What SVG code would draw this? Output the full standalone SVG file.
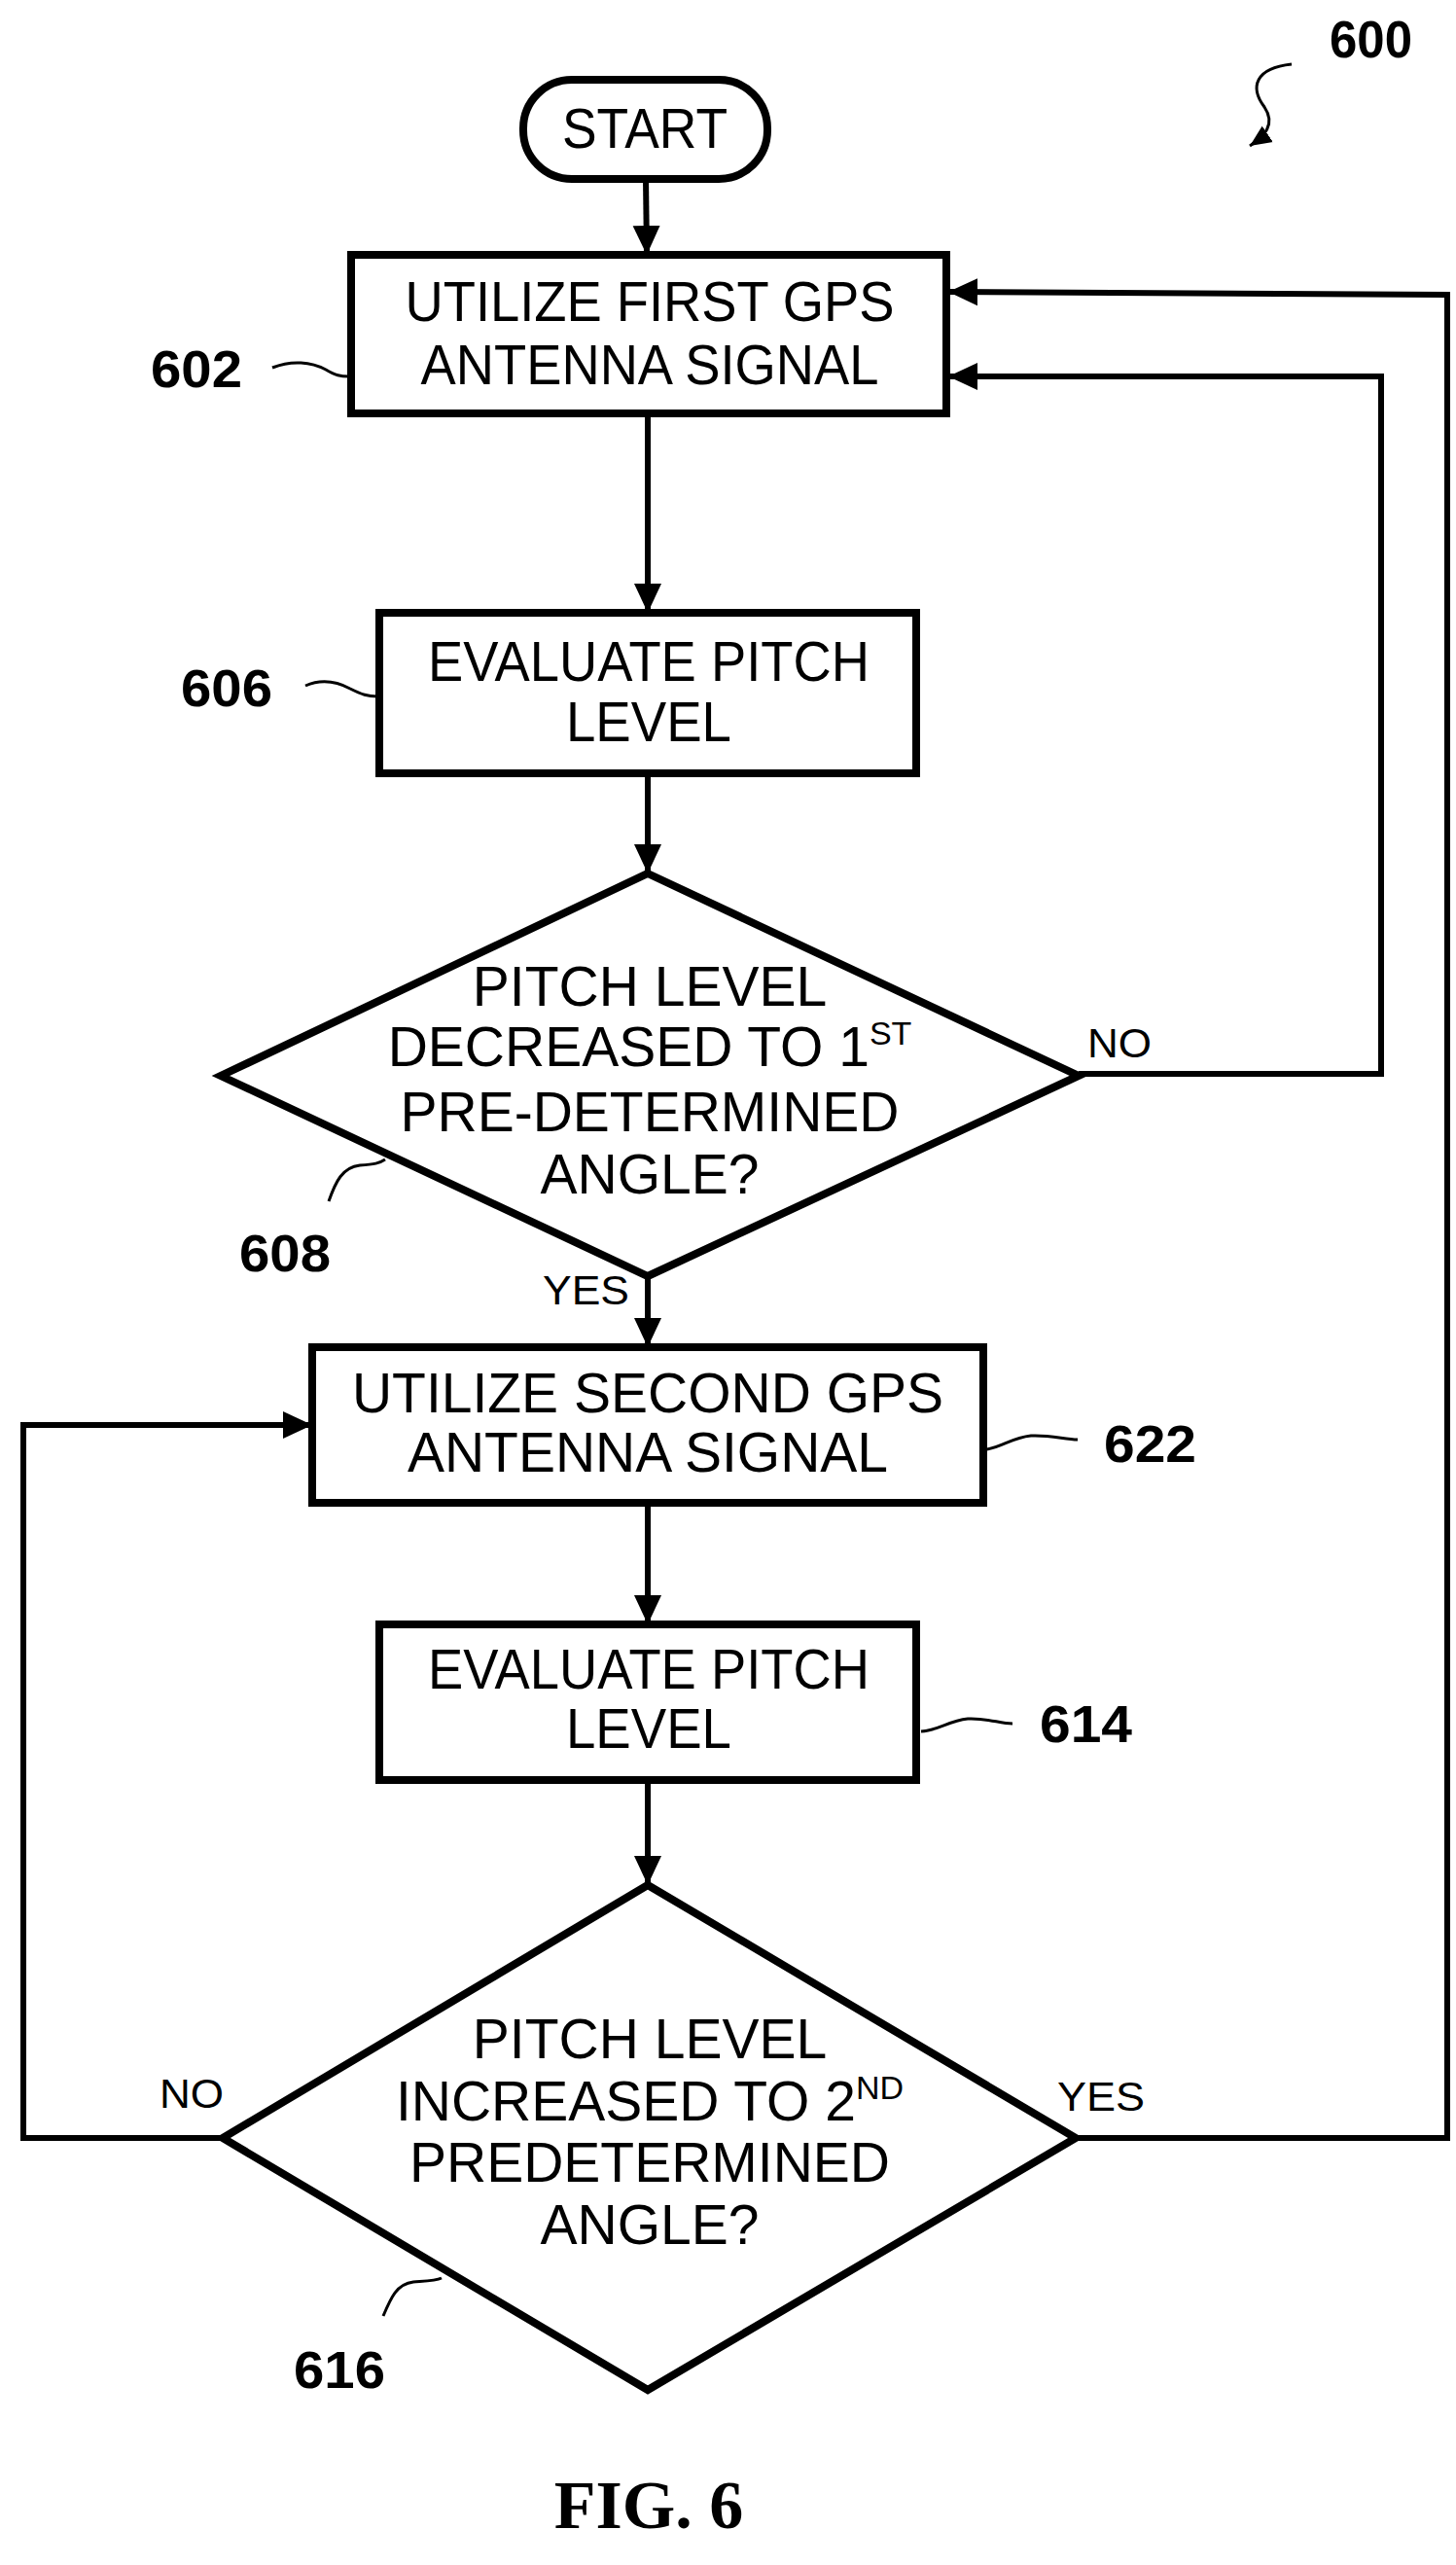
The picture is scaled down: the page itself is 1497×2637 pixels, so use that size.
<svg xmlns="http://www.w3.org/2000/svg" width="1497" height="2637" viewBox="0 0 1497 2637">
<style>
.b{fill:#fff;stroke:#000;stroke-width:8}
.t{font-family:"Liberation Sans",Arial,sans-serif;font-size:57px;text-anchor:middle;fill:#000}
.s{font-size:34px}
.l{font-family:"Liberation Sans",Arial,sans-serif;font-size:54px;font-weight:bold;fill:#000}
.y{font-family:"Liberation Sans",Arial,sans-serif;font-size:42px;fill:#000}
.c{fill:none;stroke:#000;stroke-width:6}
.q{fill:none;stroke:#000;stroke-width:3}
</style>
<defs>
<marker id="a" markerUnits="userSpaceOnUse" markerWidth="32" markerHeight="32" refX="30" refY="16" orient="auto">
<path d="M0,2 L30,16 L0,30 Z" fill="#000"/>
</marker>
<marker id="a2" markerUnits="userSpaceOnUse" markerWidth="24" markerHeight="24" refX="22" refY="12" orient="auto">
<path d="M0,2 L22,12 L0,22 Z" fill="#000"/>
</marker>
</defs>
<g id="connectors">
<path class="c" d="M664,184 L665,262" marker-end="url(#a)"/>
<path class="c" d="M666,425 L666,630" marker-end="url(#a)"/>
<path class="c" d="M666,795 L666,898" marker-end="url(#a)"/>
<path class="c" d="M666,1312 L666,1385" marker-end="url(#a)"/>
<path class="c" d="M666,1545 L666,1670" marker-end="url(#a)"/>
<path class="c" d="M666,1830 L666,1938" marker-end="url(#a)"/>
<path class="c" d="M1109,1104 L1420,1104 L1420,387 L975,387" marker-end="url(#a)"/>
<path class="c" d="M1106,2198 L1488,2198 L1488,303 L975,300" marker-end="url(#a)"/>
<path class="c" d="M229,2198 L24,2198 L24,1465 L321,1465" marker-end="url(#a)"/>
<text class="y" x="1118" y="1087" textLength="66" lengthAdjust="spacingAndGlyphs">NO</text>
<text class="y" x="558" y="1341" textLength="89" lengthAdjust="spacingAndGlyphs">YES</text>
<text class="y" x="164" y="2167" textLength="66" lengthAdjust="spacingAndGlyphs">NO</text>
<text class="y" x="1087" y="2170" textLength="90" lengthAdjust="spacingAndGlyphs">YES</text>
</g>
<g id="n600">
<text class="l" x="1367" y="59" textLength="85" lengthAdjust="spacingAndGlyphs">600</text>
<path class="q" d="M1328,66 C1290,70 1285,90 1300,110 C1312,128 1300,140 1285,150" marker-end="url(#a2)"/>
</g>
<g id="start">
<rect class="b" x="538" y="82" width="251" height="102" rx="50"/>
<text class="t" x="663" y="152" textLength="170" lengthAdjust="spacingAndGlyphs">START</text>
</g>
<g id="n602">
<rect class="b" x="361" y="262" width="612" height="163"/>
<text class="t" x="668" y="330" textLength="503" lengthAdjust="spacingAndGlyphs">UTILIZE FIRST GPS</text>
<text class="t" x="668" y="395" textLength="471" lengthAdjust="spacingAndGlyphs">ANTENNA SIGNAL</text>
<text class="l" x="155" y="398" textLength="94" lengthAdjust="spacingAndGlyphs">602</text>
<path class="q" d="M280,378 C300,370 320,372 335,380 C345,386 350,387 359,387"/>
</g>
<g id="n606">
<rect class="b" x="390" y="630" width="552" height="165"/>
<text class="t" x="667" y="700" textLength="454" lengthAdjust="spacingAndGlyphs">EVALUATE PITCH</text>
<text class="t" x="667" y="762" textLength="170" lengthAdjust="spacingAndGlyphs">LEVEL</text>
<text class="l" x="186" y="726" textLength="94" lengthAdjust="spacingAndGlyphs">606</text>
<path class="q" d="M314,705 C330,698 345,700 360,708 C372,714 378,716 388,716"/>
</g>
<g id="n608">
<polygon class="b" points="666,898 1109,1106 666,1312 227,1106"/>
<text class="t" x="668" y="1034">PITCH LEVEL</text>
<text class="t" x="668" y="1096">DECREASED TO 1<tspan class="s" dy="-22">ST</tspan></text>
<text class="t" x="668" y="1163">PRE-DETERMINED</text>
<text class="t" x="668" y="1227">ANGLE?</text>
<text class="l" x="246" y="1307" textLength="94" lengthAdjust="spacingAndGlyphs">608</text>
<path class="q" d="M338,1235 C345,1215 352,1200 370,1198 C385,1197 390,1196 396,1192"/>
</g>
<g id="n622">
<rect class="b" x="321" y="1385" width="690" height="160"/>
<text class="t" x="666" y="1452">UTILIZE SECOND GPS</text>
<text class="t" x="666" y="1513">ANTENNA SIGNAL</text>
<text class="l" x="1135" y="1503" textLength="95" lengthAdjust="spacingAndGlyphs">622</text>
<path class="q" d="M1014,1490 C1030,1488 1040,1478 1060,1476 C1080,1475 1095,1480 1108,1480"/>
</g>
<g id="n614">
<rect class="b" x="390" y="1670" width="552" height="160"/>
<text class="t" x="667" y="1736" textLength="454" lengthAdjust="spacingAndGlyphs">EVALUATE PITCH</text>
<text class="t" x="667" y="1797" textLength="170" lengthAdjust="spacingAndGlyphs">LEVEL</text>
<text class="l" x="1069" y="1791" textLength="95" lengthAdjust="spacingAndGlyphs">614</text>
<path class="q" d="M947,1780 C965,1779 975,1769 995,1767 C1015,1766 1028,1772 1041,1772"/>
</g>
<g id="n616">
<polygon class="b" points="666,1938 1106,2198 666,2457 229,2198"/>
<text class="t" x="668" y="2116">PITCH LEVEL</text>
<text class="t" x="668" y="2180">INCREASED TO 2<tspan class="s" dy="-22">ND</tspan></text>
<text class="t" x="668" y="2243">PREDETERMINED</text>
<text class="t" x="668" y="2307">ANGLE?</text>
<text class="l" x="302" y="2455" textLength="94" lengthAdjust="spacingAndGlyphs">616</text>
<path class="q" d="M394,2381 C402,2362 408,2348 425,2346 C440,2345 448,2345 454,2342"/>
</g>
<text x="667" y="2599" style="font-family:'Liberation Serif','Times New Roman',serif;font-size:70px;font-weight:bold;text-anchor:middle">FIG. 6</text>
</svg>
